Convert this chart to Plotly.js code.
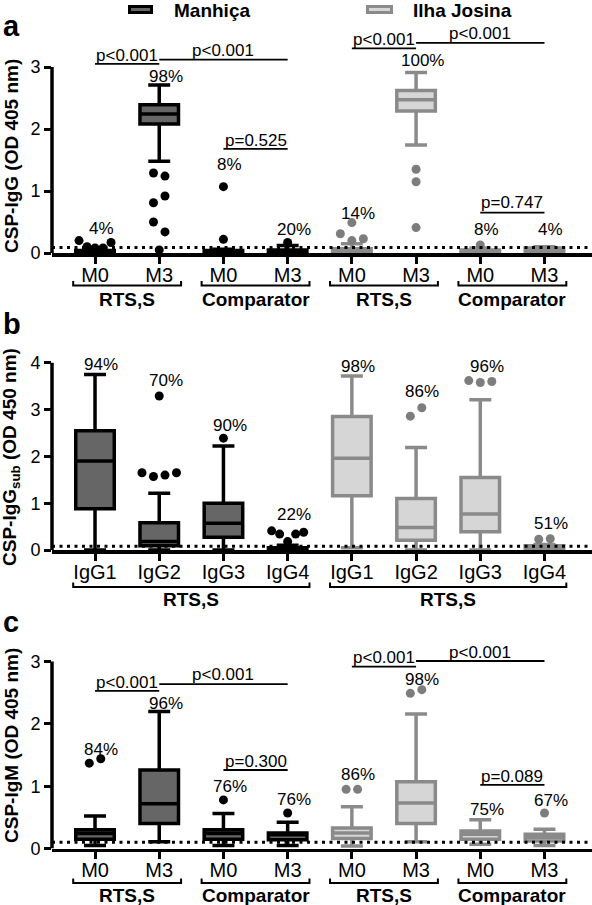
<!DOCTYPE html>
<html><head><meta charset="utf-8">
<script src="https://cdn.plot.ly/plotly-3.0.1.min.js"></script>
<style>html,body{margin:0;padding:0;background:#fff}#chart{width:592px;height:905px}</style>
</head><body><div id="chart"></div>
<script>
// ================= DATA =================
const timeCats  = ['M0','M3','M0','M3','M0','M3','M0','M3'];
const timeGroups = ['RTS,S','Comparator','RTS,S','Comparator'];
const subCats   = ['IgG1','IgG2','IgG3','IgG4','IgG1','IgG2','IgG3','IgG4'];
const subGroups = ['RTS,S','RTS,S'];
const sites = ['Manhiça','Ilha Josina'];

// Panel a: CSP-IgG (OD 405 nm)
const aManQ1  = [0.00, 2.08, 0.00, 0.00];
const aManMed = [0.02, 2.24, 0.02, 0.02];
const aManQ3  = [0.04, 2.39, 0.04, 0.05];
const aManLo  = [0.00, 1.48, 0.00, 0.00];
const aManHi  = [0.06, 2.71, 0.06, 0.12];
const aManOut = [[0.20,0.10,0.08,0.08,0.17],[1.29,1.24,0.81,0.92,0.50,0.34,0.05],[1.07,0.22],[0.17]];
const aIlhQ1  = [0.01, 2.29, 0.00, 0.00];
const aIlhMed = [0.03, 2.47, 0.02, 0.03];
const aIlhQ3  = [0.07, 2.62, 0.05, 0.08];
const aIlhLo  = [0.00, 1.74, 0.00, 0.00];
const aIlhHi  = [0.15, 2.91, 0.08, 0.10];
const aIlhOut = [[0.31,0.49,0.20,0.23],[1.35,1.15,0.41],[0.13],[]];
const aPct = ['4%','98%','8%','20%','14%','100%','8%','4%'];
const aCutoff = 0.09;
const aTests = [['p<0.001',0,1],['p<0.001',1,3],['p=0.525',2,3],['p<0.001',4,5],['p<0.001',5,7],['p=0.747',6,7]];

// Panel b: CSP-IgG subclasses (OD 450 nm)
const bManQ1  = [0.88, 0.09, 0.27, 0.00];
const bManMed = [1.90, 0.18, 0.57, 0.02];
const bManQ3  = [2.55, 0.58, 1.00, 0.05];
const bManLo  = [0.00, 0.00, 0.00, 0.00];
const bManHi  = [3.75, 1.21, 2.22, 0.10];
const bManOut = [[],[1.65,1.57,1.60,1.65,3.29],[2.39],[0.41,0.34,0.18,0.34,0.38]];
const bIlhQ1  = [1.16, 0.21, 0.39, 0.01];
const bIlhMed = [1.96, 0.48, 0.77, 0.04];
const bIlhQ3  = [2.85, 1.10, 1.55, 0.09];
const bIlhLo  = [0.05, 0.00, 0.00, 0.00];
const bIlhHi  = [3.72, 2.19, 3.21, 0.12];
const bIlhOut = [[],[2.86,3.04],[3.62,3.58,3.60],[0.23,0.24]];
const bPct = ['94%','70%','90%','22%','98%','86%','96%','51%'];
const bCutoff = 0.08;

// Panel c: CSP-IgM (OD 405 nm)
const cManQ1  = [0.15, 0.40, 0.15, 0.14];
const cManMed = [0.24, 0.72, 0.24, 0.22];
const cManQ3  = [0.30, 1.26, 0.30, 0.25];
const cManLo  = [0.05, 0.11, 0.05, 0.05];
const cManHi  = [0.52, 2.20, 0.56, 0.42];
const cManOut = [[1.37,1.44],[],[0.78],[0.57]];
const cIlhQ1  = [0.16, 0.40, 0.15, 0.12];
const cIlhMed = [0.25, 0.73, 0.23, 0.18];
const cIlhQ3  = [0.33, 1.07, 0.28, 0.23];
const cIlhLo  = [0.04, 0.11, 0.07, 0.05];
const cIlhHi  = [0.67, 2.16, 0.46, 0.31];
const cIlhOut = [[0.95,0.95],[2.49,2.55],[],[0.57]];
const cPct = ['84%','96%','76%','76%','86%','98%','75%','67%'];
const cCutoff = 0.10;
const cTests = [['p<0.001',0,1],['p<0.001',1,3],['p=0.300',2,3],['p<0.001',4,5],['p<0.001',5,7],['p=0.089',6,7]];

// ================= LAYOUT / PLACEMENT =================
const W = 592, H = 905;
const FONT = 'Liberation Sans, Arial, Helvetica, sans-serif';
const xDom = [52/W, 1];
const xRange = [-0.67, 7.74];
const manPos = [0,1,2,3], ilhPos = [4,5,6,7];
// label heights (annotation placement only)
const aPctY = [0.40,2.85,1.42,0.38,0.63,3.10,0.38,0.38];
const bPctY = [3.97,3.62,2.65,0.75,3.92,3.38,3.92,0.57];
const cPctY = [1.59,2.33,0.99,0.78,1.18,2.71,0.62,0.77];
const aTestY = [[3.05,3.19],[3.12,3.26],[1.68,1.82],[3.30,3.44],[3.39,3.54],[0.65,0.81]];
const cTestY = [[2.53,2.67],[2.64,2.79],[1.26,1.40],[2.92,3.07],[3.01,3.15],[1.02,1.15]];

const panels = [
  {key:'a', ax:'', zeroPx:253, top:3.7, axTop:3, ticks:[0,1,2,3], cats:timeCats,
   groups:timeGroups, groupSpans:[[0,1],[2,3],[4,5],[6,7]], brOff:32.5, glOff:46.5,
   man:[aManQ1,aManMed,aManQ3,aManLo,aManHi,aManOut], ilh:[aIlhQ1,aIlhMed,aIlhQ3,aIlhLo,aIlhHi,aIlhOut],
   pct:aPct, pctY:aPctY, cutoff:aCutoff, tests:aTests, testY:aTestY,
   title:'<b>CSP-IgG (OD 405 nm)</b>', titleY:156, letterY:26},
  {key:'b', ax:'2', zeroPx:550, top:4.3, axTop:4, ticks:[0,1,2,3,4], cats:subCats,
   groups:subGroups, groupSpans:[[0,3],[4,7]], brOff:37, glOff:49,
   man:[bManQ1,bManMed,bManQ3,bManLo,bManHi,bManOut], ilh:[bIlhQ1,bIlhMed,bIlhQ3,bIlhLo,bIlhHi,bIlhOut],
   pct:bPct, pctY:bPctY, cutoff:bCutoff, tests:[], testY:[],
   title:'<b>CSP-IgG<sub>sub</sub> (OD 450 nm)</b>', titleY:457, letterY:324},
  {key:'c', ax:'3', zeroPx:848.5, top:3.3, axTop:3, ticks:[0,1,2,3], cats:timeCats,
   groups:timeGroups, groupSpans:[[0,1],[2,3],[4,5],[6,7]], brOff:34.5, glOff:47,
   man:[cManQ1,cManMed,cManQ3,cManLo,cManHi,cManOut], ilh:[cIlhQ1,cIlhMed,cIlhQ3,cIlhLo,cIlhHi,cIlhOut],
   pct:cPct, pctY:cPctY, cutoff:cCutoff, tests:cTests, testY:cTestY,
   title:'<b>CSP-IgM (OD 405 nm)</b>', titleY:746, letterY:622}
];
const unitPx = [62, 46.8, 62.3];

const MAN = {fill:'#666666', line:'#000000', dot:'#000000'};
const ILH = {fill:'#d6d6d6', line:'#8a8a8a', dot:'#7d7d7d'};

const pxPerX = W*(xDom[1]-xDom[0])/(xRange[1]-xRange[0]);

// spread overlapping outliers sideways (computed from values)
function spread(vals, pxY){
  const thr = 10.7/pxY;
  const idx = vals.map((v,i)=>i).sort((p,q)=>vals[p]-vals[q]);
  const clusters = [];
  idx.forEach((i,k)=>{
    if(k>0 && vals[i]-vals[idx[k-1]] < thr) clusters[clusters.length-1].push(i);
    else clusters.push([i]);
  });
  const off = new Array(vals.length).fill(0);
  clusters.forEach(cl=>{
    cl.sort((p,q)=>p-q);
    const n = cl.length, step = (n>=5 ? 8 : 11.5)/pxPerX;
    cl.forEach((i,k)=>{ off[i] = (k-(n-1)/2)*step; });
  });
  return off;
}

const traces = [], shapes = [], annotations = [];
const layout = {
  width:W, height:H, margin:{l:0,r:0,t:0,b:0}, paper_bgcolor:'#fff', plot_bgcolor:'rgba(0,0,0,0)',
  showlegend:false, font:{family:FONT, color:'#000'}, shapes, annotations
};

panels.forEach((p,pi)=>{
  const upx = unitPx[pi];
  const yDom = [1 - p.zeroPx/H, 1 - (p.zeroPx - upx*p.top)/H];
  const xa = 'x'+p.ax, ya = 'y'+p.ax;
  layout['xaxis'+p.ax] = {domain:xDom, range:xRange, anchor:ya, tickmode:'array', tickvals:[0,1,2,3,4,5,6,7],
    ticktext:p.cats, ticks:'outside', ticklen:7, tickwidth:3, tickcolor:'#000', showline:true, linewidth:3.5,
    linecolor:'#000', showgrid:false, zeroline:false, ticklabelstandoff:-6,
    tickfont:{size:20, family:FONT, color:'#000'}, fixedrange:true};
  layout['yaxis'+p.ax] = {domain:yDom, range:[0,p.top], anchor:xa, tickmode:'array', tickvals:p.ticks,
    ticks:'outside', ticklen:7, tickwidth:3, tickcolor:'#000', showline:false, showgrid:false, zeroline:false,
    tickfont:{size:18, family:FONT, color:'#000'}, fixedrange:true};

  // boxes
  [[p.man, manPos, MAN],[p.ilh, ilhPos, ILH]].forEach(([s,pos,st])=>{
    traces.push({type:'box', xaxis:xa, yaxis:ya, x:pos, q1:s[0], median:s[1], q3:s[2], lowerfence:s[3], upperfence:s[4],
      width:0.6, whiskerwidth:0.57, fillcolor:st.fill, line:{color:st.line, width:3.5}, boxpoints:false, hoverinfo:'skip'});
    const ox=[], oy=[];
    s[5].forEach((vals,bi)=>{
      const off = spread(vals, upx);
      vals.forEach((v,k)=>{ ox.push(pos[bi]+off[k]); oy.push(v); });
    });
    traces.push({type:'scatter', mode:'markers', xaxis:xa, yaxis:ya, x:ox, y:oy, cliponaxis:false,
      marker:{size:9, color:st.dot, line:{width:0}}, hoverinfo:'skip'});
  });

  // y axis line (only up to the last tick)
  shapes.push({type:'line', xref:xa+' domain', yref:ya, x0:0, x1:0, y0:0, y1:p.axTop, line:{color:'#000', width:3.5}});
  // cutoff dotted line
  shapes.push({type:'line', xref:xa+' domain', yref:ya, x0:0, x1:1, y0:p.cutoff, y1:p.cutoff,
    line:{color:'#000', width:3, dash:'3px,4.5px'}});

  // percentage labels
  p.pct.forEach((t,i)=>annotations.push({xref:xa, yref:ya, x:i+0.1, y:p.pctY[i], text:t, showarrow:false,
    font:{size:17, family:FONT, color:'#000'}, xanchor:'center', yanchor:'middle'}));

  // significance lines
  p.tests.forEach((t,i)=>{
    const [ly, ty] = p.testY[i];
    shapes.push({type:'line', xref:xa, yref:ya, x0:t[1], x1:t[2], y0:ly, y1:ly, line:{color:'#000', width:1.8}});
    annotations.push({xref:xa, yref:ya, x:(t[1]+t[2])/2, y:ty, text:t[0], showarrow:false,
      font:{size:17, family:FONT, color:'#000'}, xanchor:'center', yanchor:'middle'});
  });

  // group brackets under the axis
  const brY = 1 - (p.zeroPx + p.brOff)/H, tipY = 1 - (p.zeroPx + p.brOff - 4.5)/H;
  const glY = 1 - (p.zeroPx + p.glOff)/H;
  p.groups.forEach((g,gi)=>{
    const [c0,c1] = p.groupSpans[gi];
    const x0 = c0-0.34, x1 = c1+0.34;
    shapes.push({type:'path', xref:xa, yref:'paper', path:`M${x0},${tipY} L${x0},${brY} L${x1},${brY} L${x1},${tipY}`,
      line:{color:'#000', width:2}});
    annotations.push({xref:xa, yref:'paper', x:(c0+c1)/2, y:glY, text:'<b>'+g+'</b>', showarrow:false,
      font:{size:19, family:FONT, color:'#000'}, xanchor:'center', yanchor:'middle'});
  });

  // y title and panel letter
  annotations.push({xref:'paper', yref:'paper', x:11/W, y:1-p.titleY/H, text:p.title, textangle:-90, showarrow:false,
    font:{size:19, family:FONT, color:'#000'}, xanchor:'center', yanchor:'middle'});
  annotations.push({xref:'paper', yref:'paper', x:1/W, y:1-p.letterY/H, text:'<b>'+p.key+'</b>', showarrow:false,
    font:{size:29, family:FONT, color:'#000'}, xanchor:'left', yanchor:'middle'});
});

// legend (drawn as shapes + text)
[[sites[0], MAN, 129.5, 151.5, 172],[sites[1], ILH, 367.5, 391.5, 411]].forEach(([name, st, x0, x1, tx])=>{
  shapes.push({type:'rect', xref:'paper', yref:'paper', x0:x0/W, x1:x1/W, y0:1-6.5/H, y1:1-12.5/H,
    fillcolor:st.fill, line:{color:st.line, width:3}});
  annotations.push({xref:'paper', yref:'paper', x:tx/W, y:1-11/H, text:'<b>'+name+'</b>', showarrow:false,
    font:{size:19, family:FONT, color:'#000'}, xanchor:'left', yanchor:'middle'});
});

Plotly.newPlot('chart', traces, layout, {staticPlot:true, displayModeBar:false});
</script>
</body></html>
